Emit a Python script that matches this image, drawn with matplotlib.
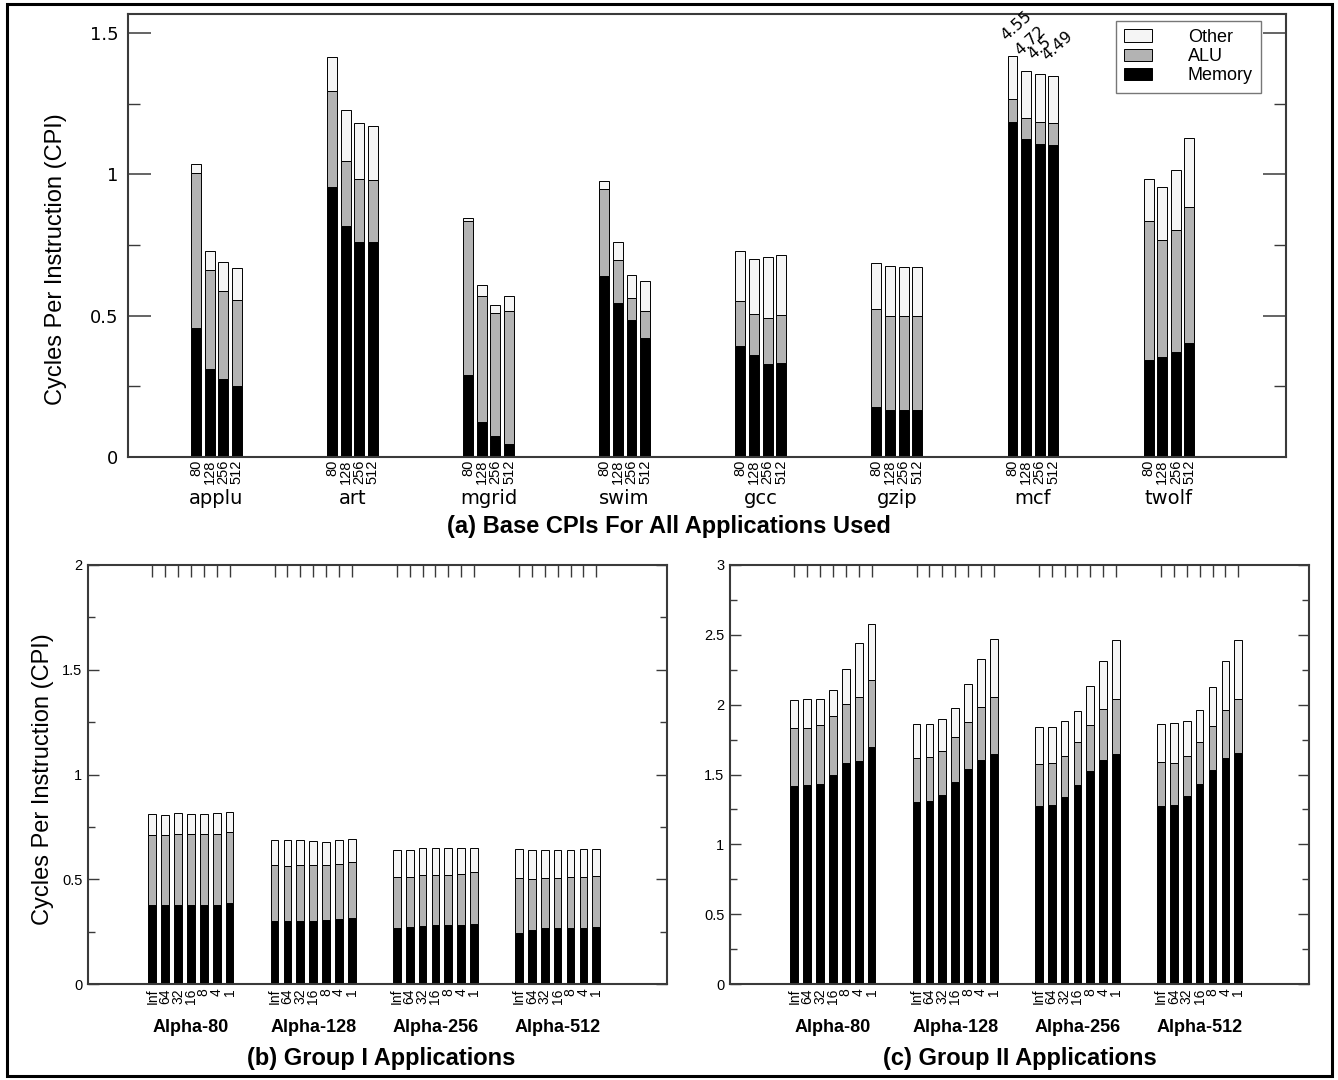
import numpy as np
import matplotlib
matplotlib.use('Agg')
import matplotlib.pyplot as plt
from matplotlib.patches import Rectangle, Patch
from matplotlib.ticker import MultipleLocator

plt.rcParams['font.family'] = ['Liberation Sans', 'DejaVu Sans']

# ---- panel (a): base CPI, stacked tops (memory, memory+alu, total) ----
apps = ['applu', 'art', 'mgrid', 'swim', 'gcc', 'gzip', 'mcf', 'twolf']
sizes = ['80', '128', '256', '512']
a_mem = [[0.458, 0.310, 0.275, 0.250],
         [0.954, 0.817, 0.760, 0.760],
         [0.290, 0.123, 0.076, 0.047],
         [0.642, 0.543, 0.483, 0.421],
         [0.391, 0.361, 0.328, 0.334],
         [0.178, 0.168, 0.168, 0.168],
         [1.184, 1.124, 1.107, 1.105],
         [0.342, 0.355, 0.373, 0.405]]
a_alu = [[1.006, 0.660, 0.587, 0.557],
         [1.296, 1.046, 0.982, 0.980],
         [0.836, 0.568, 0.510, 0.518],
         [0.947, 0.696, 0.564, 0.515],
         [0.551, 0.507, 0.491, 0.502],
         [0.525, 0.498, 0.498, 0.498],
         [1.265, 1.199, 1.184, 1.180],
         [0.834, 0.769, 0.803, 0.886]]
a_tot = [[1.037, 0.729, 0.689, 0.670],
         [1.415, 1.229, 1.180, 1.171],
         [0.847, 0.609, 0.539, 0.571],
         [0.978, 0.759, 0.644, 0.623],
         [0.727, 0.702, 0.708, 0.713],
         [0.687, 0.675, 0.673, 0.673],
         [1.419, 1.367, 1.353, 1.349],
         [0.983, 0.956, 1.016, 1.127]]
mcf_labels = ['4.55', '4.72', '4.5', '4.49']

# ---- panels (b) and (c) ----
configs = ['Alpha-80', 'Alpha-128', 'Alpha-256', 'Alpha-512']
ports = ['Inf', '64', '32', '16', '8', '4', '1']
b_mem = [[0.375, 0.375, 0.379, 0.375, 0.375, 0.379, 0.386],
         [0.301, 0.299, 0.303, 0.301, 0.304, 0.310, 0.313],
         [0.265, 0.273, 0.278, 0.280, 0.281, 0.283, 0.287],
         [0.244, 0.258, 0.265, 0.269, 0.269, 0.269, 0.274]]
b_alu = [[0.713, 0.712, 0.717, 0.715, 0.717, 0.717, 0.727],
         [0.568, 0.563, 0.568, 0.568, 0.568, 0.575, 0.582],
         [0.513, 0.512, 0.519, 0.520, 0.522, 0.526, 0.536],
         [0.508, 0.501, 0.506, 0.506, 0.510, 0.512, 0.517]]
b_tot = [[0.811, 0.809, 0.814, 0.811, 0.811, 0.814, 0.821],
         [0.687, 0.685, 0.687, 0.681, 0.678, 0.685, 0.692],
         [0.642, 0.642, 0.648, 0.650, 0.650, 0.651, 0.651],
         [0.644, 0.641, 0.642, 0.641, 0.642, 0.646, 0.644]]
c_mem = [[1.419, 1.422, 1.430, 1.499, 1.583, 1.599, 1.700],
         [1.305, 1.311, 1.350, 1.443, 1.536, 1.607, 1.644],
         [1.273, 1.281, 1.337, 1.422, 1.525, 1.607, 1.647],
         [1.273, 1.281, 1.345, 1.435, 1.533, 1.618, 1.652]]
c_alu = [[1.832, 1.832, 1.851, 1.920, 2.007, 2.052, 2.174],
         [1.615, 1.628, 1.668, 1.769, 1.875, 1.986, 2.057],
         [1.575, 1.583, 1.636, 1.732, 1.853, 1.970, 2.044],
         [1.586, 1.583, 1.636, 1.734, 1.848, 1.965, 2.041]]
c_tot = [[2.036, 2.041, 2.044, 2.102, 2.258, 2.441, 2.579],
         [1.861, 1.864, 1.898, 1.975, 2.145, 2.325, 2.468],
         [1.843, 1.843, 1.880, 1.954, 2.131, 2.311, 2.462],
         [1.861, 1.867, 1.880, 1.962, 2.126, 2.311, 2.460]]

C_MEM, C_ALU, C_OTH = '#000000', '#b3b3b3', '#f5f5f5'
SPINE = '#3a3a3a'
W, H = 1338, 1080

fig = plt.figure(figsize=(W / 100, H / 100), dpi=100)


def px_axes(l, t, r, b):
    return fig.add_axes([l / W, 1 - b / H, (r - l) / W, (b - t) / H])


def stacked(ax, x, mem, alu, tot, w):
    mem, alu, tot = np.array(mem), np.array(alu), np.array(tot)
    ax.bar(x, mem, w, color=C_MEM, edgecolor='black', lw=0.7)
    ax.bar(x, alu - mem, w, bottom=mem, color=C_ALU, edgecolor='black', lw=0.7)
    ax.bar(x, tot - alu, w, bottom=alu, color=C_OTH, edgecolor='black', lw=0.7)


def style_spines(ax):
    for sp in ax.spines.values():
        sp.set_color(SPINE)
        sp.set_linewidth(1.5)


# ================= (a) =================
ax = px_axes(128, 14, 1286, 457)
xticks, xlabels = [], []
for i, app in enumerate(apps):
    x = 10 * i + np.arange(4)
    stacked(ax, x, a_mem[i], a_alu[i], a_tot[i], 0.73)
    xticks += list(x)
    xlabels += sizes
    ax.text(10 * i + 1.5, -0.0926, app, transform=ax.get_xaxis_transform(),
            ha='center', va='center', fontsize=14, family='DejaVu Sans')

mi = apps.index('mcf')
for j, lbl in enumerate(mcf_labels):
    ax.annotate(lbl, (10 * mi + j, a_tot[mi][j]), xytext=(-3, 9),
                textcoords='offset points', rotation=42, rotation_mode='anchor',
                ha='left', va='bottom', fontsize=11.5, family='DejaVu Sans')

ax.set_xlim(-5, 80.1)
ax.set_ylim(0, 1.567)
ax.set_xticks(xticks)
ax.set_xticklabels(xlabels, rotation=90, fontsize=10.5)
ax.tick_params(axis='x', length=0, pad=2)
ax.set_yticks([0, 0.5, 1, 1.5])
ax.set_yticklabels(['0', '0.5', '1', '1.5'], family='DejaVu Sans', fontsize=13)
ax.yaxis.set_minor_locator(MultipleLocator(0.25))
ax.tick_params(axis='y', which='major', direction='in', left=True, right=True,
               length=16.5, width=1.1, color=SPINE, pad=7)
ax.tick_params(axis='y', which='minor', direction='in', left=True, right=True,
               length=8.6, width=1.0, color=SPINE)
style_spines(ax)
ax.text(-0.0622, 0.447, 'Cycles Per Instruction (CPI)', transform=ax.transAxes,
        rotation=90, ha='center', va='center', fontsize=17)

handles = [Patch(facecolor=C_OTH, edgecolor='black', lw=0.7),
           Patch(facecolor=C_ALU, edgecolor='black', lw=0.7),
           Patch(facecolor=C_MEM, edgecolor='black', lw=0.7)]
leg = ax.legend(handles, ['Other', 'ALU', 'Memory'], loc='upper right',
                bbox_to_anchor=((1261 - 128) / 1158, (457 - 21) / 443),
                fontsize=13, handlelength=1.55, handleheight=0.7,
                handletextpad=2.0, labelspacing=0.12, borderpad=0.45,
                fancybox=False, borderaxespad=0)
leg.get_frame().set_edgecolor('#555555')
leg.get_frame().set_linewidth(1.0)

fig.text(0.5, 1 - 527 / H, '(a) Base CPIs For All Applications Used',
         ha='center', va='center', fontsize=17, fontweight='bold')


# ================= (b) and (c) =================
def group_panel(ax, mem, alu, tot, ymax):
    xticks, xlabels = [], []
    for g, cfg in enumerate(configs):
        x = 9.5 * g + np.arange(7)
        stacked(ax, x, mem[g], alu[g], tot[g], 0.6)
        xticks += list(x)
        xlabels += ports
        ax.text(9.5 * g + 3, -0.105, cfg, transform=ax.get_xaxis_transform(),
                ha='center', va='center', fontsize=13, fontweight='bold')
    ax.set_xlim(-5, 40)
    ax.set_ylim(0, ymax)
    ax.set_xticks(xticks)
    ax.set_xticklabels(xlabels, rotation=90, fontsize=10)
    ax.tick_params(axis='x', bottom=False, top=True, direction='in',
                   length=8.6, width=1.0, color=SPINE, labelbottom=True, pad=3)
    yt = np.arange(0, ymax + 0.01, 0.5)
    ax.set_yticks(yt)
    ax.set_yticklabels(['%g' % v for v in yt], fontsize=10.5)
    ax.yaxis.set_minor_locator(MultipleLocator(0.25))
    ax.tick_params(axis='y', which='major', direction='in', left=True, right=True,
                   length=8, width=1.0, color=SPINE, pad=4)
    ax.tick_params(axis='y', which='minor', direction='in', left=True, right=True,
                   length=4.7, width=1.0, color=SPINE)
    style_spines(ax)


axb = px_axes(88, 565, 667, 984)
group_panel(axb, b_mem, b_alu, b_tot, 2)
axb.text(-0.0777, 0.49, 'Cycles Per Instruction (CPI)', transform=axb.transAxes,
         rotation=90, ha='center', va='center', fontsize=17)
fig.text(381 / W, 1 - 1059 / H, '(b) Group I Applications',
         ha='center', va='center', fontsize=17, fontweight='bold')

axc = px_axes(730, 565, 1309, 984)
group_panel(axc, c_mem, c_alu, c_tot, 3)
fig.text(1020 / W, 1 - 1059 / H, '(c) Group II Applications',
         ha='center', va='center', fontsize=17, fontweight='bold')

# outer frame
fig.patches.append(Rectangle((7 / W, 4 / H), (1332 - 7) / W, (1076 - 4) / H,
                             transform=fig.transFigure, fill=False,
                             edgecolor='black', lw=2.2))

fig.savefig('out.png', dpi=100)
